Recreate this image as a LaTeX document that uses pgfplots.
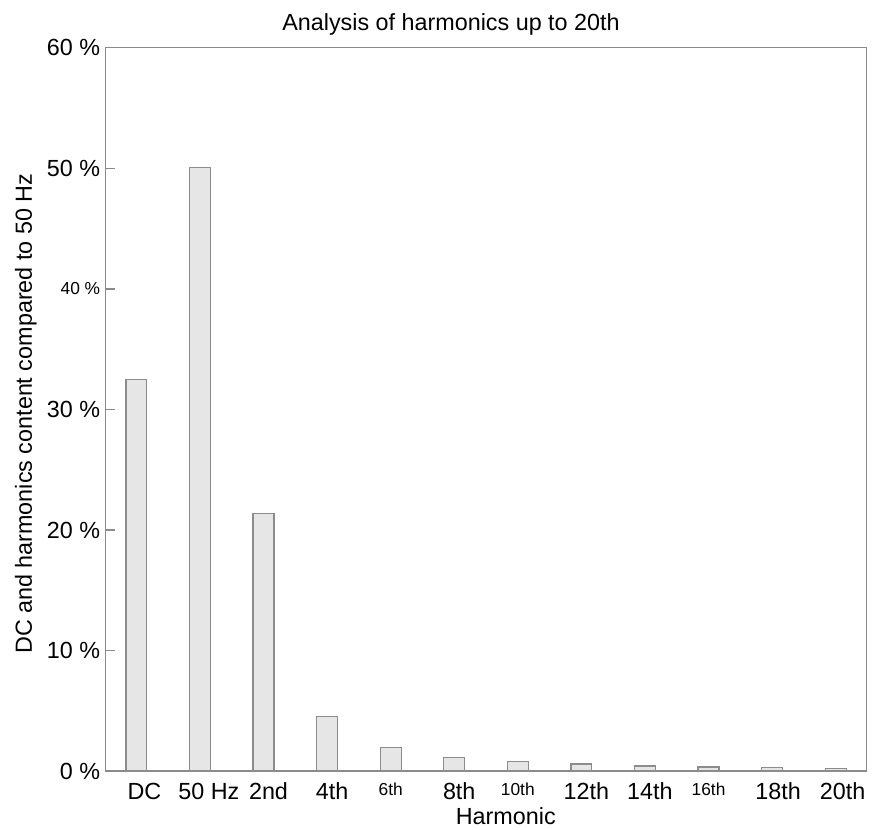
\documentclass[border=0pt]{standalone}
\usepackage{pgfplots}
\pgfplotsset{compat=1.18}
\usepackage{fontspec}
\setmainfont{Liberation Sans}
\definecolor{barfill}{HTML}{E6E6E6}
\definecolor{barline}{HTML}{8C8C8C}
\definecolor{axline}{HTML}{8A8A8A}
\pgfplotstableread{
x  y
0  32.5
1  50.1
2  21.4
3  4.5
4  1.97
5  1.14
6  0.80
7  0.58
8  0.41
9  0.33
10 0.29
11 0.22
}\harm
\newcommand{\bigf}{\fontsize{11.7}{14}\selectfont}
\newcommand{\smf}{\fontsize{8.7}{10}\selectfont}
\begin{document}
\begin{tikzpicture}
\begin{axis}[
  scale only axis,
  width=381.75pt, height=362.5pt,
  xmin=-0.49, xmax=11.49,
  ymin=0, ymax=60,
  axis line style={axline, line width=0.6pt},
  xtick=data,
  xticklabels={\hspace*{3pt}DC,\hspace*{4pt}50 Hz,2nd,4th,{\smf\hspace*{-5pt}6th},8th,{\smf\hspace*{-5pt}10th},12th,14th,{\smf\hspace*{-5pt}16th},\hspace*{1pt}18th,\hspace*{2pt}20th},
  xtick style={draw=none},
  x tick label style={font=\bigf, yshift=-2.5pt, xshift=2.5pt},
  ytick={0,10,20,30,40,50,60},
  yticklabels={0 \%,10 \%,20 \%,30 \%,{\smf 40 \%},50 \%,60 \%},
  y tick label style={font=\bigf, xshift=1pt},
  ytick style={axline, line width=0.6pt},
  ytick pos=left,
  tick align=inside,
  major tick length=5pt,
  title={Analysis of harmonics up to 20th},
  title style={font=\bigf, at={(axis description cs:0.454,1)}, anchor=base, yshift=2.8pt, inner sep=0pt},
  xlabel={Harmonic},
  xlabel style={font=\bigf, at={(axis description cs:0.526,0)}, anchor=base, yshift=-27pt, inner sep=0pt},
  ylabel={DC and harmonics content compared to 50 Hz},
  ylabel style={font=\bigf, at={(axis description cs:-0.0963,0.494)}, anchor=base, inner sep=0pt},
  clip=false,
]
\addplot[ybar, bar width=10.5pt, fill=barfill, draw=barline, line width=0.6pt] table[x=x,y=y] {\harm};
\path (rel axis cs:0,0) ++(-52.75pt,-29.5pt) coordinate (bbsw);
\path (rel axis cs:1,1) ++(1.5pt,24pt) coordinate (bbne);
\end{axis}
\useasboundingbox (bbsw) rectangle (bbne);
\end{tikzpicture}
\end{document}
